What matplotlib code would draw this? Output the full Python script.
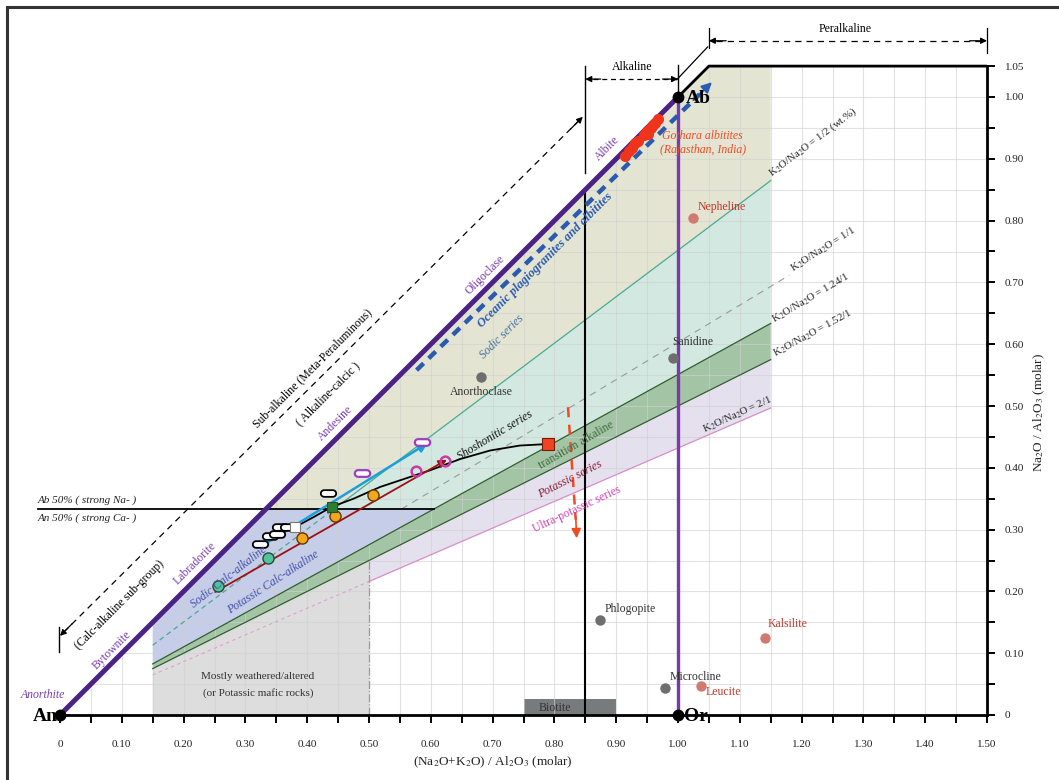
import numpy as np
import matplotlib
matplotlib.use("Agg")
import matplotlib.pyplot as plt
from matplotlib.patches import Polygon, Rectangle
from matplotlib.path import Path
from matplotlib.ticker import FixedLocator, FuncFormatter

plt.rcParams['font.family'] = ['Liberation Serif', 'DejaVu Serif']
plt.rcParams['mathtext.fontset'] = 'stix'

# ---------------------------------------------------------------- data
# K2O/Na2O reference lines: Na2O/Al2O3 = slope * (Na2O+K2O)/Al2O3
ratio_labels = ['1/2 (wt.%)', '1/1', '1.24/1', '1.52/1', '2/1']
ratio_slopes = [0.752, 0.603, 0.551, 0.500, 0.432]

# reference minerals
mineral_names = ['Anorthoclase', 'Sanidine', 'Nepheline', 'Phlogopite',
                 'Microcline', 'Leucite', 'Kalsilite']
mineral_x = [0.681, 0.992, 1.024, 0.874, 0.979, 1.037, 1.141]
mineral_y = [0.547, 0.578, 0.804, 0.154, 0.044, 0.047, 0.125]
mineral_kind = ['grey', 'grey', 'red', 'grey', 'grey', 'red', 'red']

# Gothara albitites (Rajasthan, India)
albitite_x = [0.915, 0.920, 0.925, 0.930, 0.936, 0.945, 0.950, 0.952, 0.957, 0.960, 0.963, 0.967]
albitite_y = [0.904, 0.912, 0.918, 0.925, 0.928, 0.938, 0.945, 0.940, 0.950, 0.955, 0.958, 0.964]

# calc-alkaline / shoshonitic reference suites
pill_black_x = [0.324, 0.340, 0.351, 0.356, 0.369, 0.434]
pill_black_y = [0.277, 0.290, 0.293, 0.304, 0.304, 0.359]
pill_purple_x = [0.489, 0.586]
pill_purple_y = [0.391, 0.442]
green_circ_x = [0.256, 0.337]
green_circ_y = [0.209, 0.254]
orange_circ_x = [0.392, 0.445, 0.506]
orange_circ_y = [0.286, 0.322, 0.356]
magenta_ring_x = [0.576, 0.623]
magenta_ring_y = [0.395, 0.411]
white_sq = (0.380, 0.304)
green_sq = (0.440, 0.337)
red_sq = (0.790, 0.4385)

# shoshonitic trend curve
shosh_x = [0.380, 0.410, 0.440, 0.475, 0.518, 0.560, 0.599, 0.647, 0.696, 0.744, 0.790]
shosh_y = [0.304, 0.320, 0.337, 0.350, 0.369, 0.383, 0.396, 0.414, 0.428, 0.436, 0.4385]

# trend arrows (start, end)
sodic_trend = [(0.324, 0.272), (0.595, 0.440)]
potassic_trend = [(0.251, 0.199), (0.626, 0.413)]
oceanic_trend = [(0.577, 0.558), (1.055, 1.024)]
weathering_trend = [(0.822, 0.498), (0.836, 0.286)]

x_ticks = [round(0.1 * i, 2) for i in range(16)]
y_ticks = [round(0.1 * i, 2) for i in range(11)] + [1.05]

# ---------------------------------------------------------------- figure
fig = plt.figure(figsize=(10.59, 7.80), dpi=100)
ax = fig.add_axes([0, 0, 1, 1])
ax.set_xlim(-60 / 618, 999 / 618)
ax.set_ylim(-65 / 618, 715 / 618)
ax.patch.set_alpha(0)

fig.add_artist(Rectangle((7 / 1059, -0.2), 1.3, 1.2 - 7 / 780, transform=fig.transFigure,
                         fill=False, lw=2.2, ec='#333333'))

s12, s11, s124, s152, s21 = ratio_slopes
third = 1 / 3
xr = 1.15

# fields
c_olive, c_teal, c_blue = '#e4e4d2', '#d2e8e1', '#c6cde8'
c_band, c_lilac, c_grey = '#a4c4a6', '#e5e0ee', '#dcdddc'

ax.add_patch(Polygon([(third, third), (1, 1), (1.05, 1.05), (xr, 1.05), (xr, s12 * xr),
                      (third / s12, third)], closed=True, fc=c_olive, ec='none', zorder=1))
ax.add_patch(Polygon([(third / s12, third), (xr, s12 * xr), (xr, s124 * xr),
                      (third / s124, third)], closed=True, fc=c_teal, ec='none', zorder=1))
ax.add_patch(Polygon([(0.15, 0.15), (third, third), (third / s124, third),
                      (0.15, s124 * 0.15)], closed=True, fc=c_blue, ec='none', zorder=1))
ax.add_patch(Polygon([(0.15, s124 * 0.15), (xr, s124 * xr), (xr, s152 * xr),
                      (0.15, s152 * 0.15)], closed=True, fc=c_band, ec='none', zorder=1))
ax.add_patch(Polygon([(0.5, s152 * 0.5), (xr, s152 * xr), (xr, s21 * xr),
                      (0.5, s21 * 0.5)], closed=True, fc=c_lilac, ec='none', zorder=1))
ax.add_patch(Polygon([(0.15, 0), (0.5, 0), (0.5, s152 * 0.5), (0.15, s152 * 0.15)],
                     closed=True, fc=c_grey, ec='none', zorder=1))
ax.add_patch(Rectangle((0.75, 0), 0.15, 0.026, fc='#787b7b', ec='none', zorder=1.2))

# grid limited to the diagram domain
domain = Polygon([(0, 0), (1, 1), (1.05, 1.05), (1.5, 1.05), (1.5, 0)], closed=True,
                 transform=ax.transData)
gx = np.arange(1, 30) * 0.05
gy = np.arange(1, 21) * 0.05
vl = ax.vlines(gx, 0, 1.05, colors='#d0d0d0', lw=0.8, alpha=0.6, zorder=1.5)
hl = ax.hlines(gy, 0, 1.5, colors='#d0d0d0', lw=0.8, alpha=0.6, zorder=1.5)
vl.set_clip_path(domain)
hl.set_clip_path(domain)

# reference lines
xx = np.array([0.15, xr])
ax.plot([0.15, third / s12], [0.15 * s12, third], ls=(0, (4, 3)), color='#4aaa90', lw=0.9, zorder=2)
ax.plot([third / s12, xr], [third, xr * s12], color='#4aaa90', lw=0.9, zorder=2)
ax.plot([third / s11, 1.18], [third, 1.18 * s11], ls=(0, (6, 5)), color='#9a9a9a', lw=0.8, zorder=2)
ax.plot(xx, xx * s124, color='#2f5e2f', lw=0.9, zorder=2)
ax.plot(xx, xx * s152, color='#2f5e2f', lw=0.9, zorder=2)
ax.plot([0.15, 0.5], [0.15 * s21, 0.5 * s21], ls=(0, (3, 3)), color='#e0a0d2', lw=0.8, zorder=2)
ax.plot([0.5, xr], [0.5 * s21, xr * s21], color='#d88ccc', lw=0.9, zorder=2)
ax.plot([0.5, 0.5], [0, 0.5 * s152], ls='-.', color='#9a9a9a', lw=0.9, zorder=2)
ax.plot([-0.036, third / s124], [third, third], color='k', lw=1.3, zorder=2.5)

# boundaries
ax.plot([0.85, 0.85], [0, 0.85], color='k', lw=1.5, zorder=2.6)
ax.plot([0.85, 0.85], [0.877, 1.05], color='k', lw=1.0, zorder=2.6)
ax.plot([1.0, 1.0], [0, 1.0], color='#7b3aa8', lw=2.4, zorder=2.7)
ax.plot([1.0, 1.0], [1.0, 1.052], color='k', lw=1.0, zorder=2.7)
ax.plot([1.0, 1.05, 1.5], [1.0, 1.05, 1.05], color='k', lw=2.0, zorder=2.7, solid_capstyle='butt')
ax.plot([0, 1], [0, 1], color='#4b2483', lw=3.6, zorder=3, solid_capstyle='round')

# axes
for s in ['left', 'top']:
    ax.spines[s].set_visible(False)
ax.spines['bottom'].set_position(('data', 0))
ax.spines['bottom'].set_bounds(0, 1.5)
ax.spines['right'].set_position(('data', 1.5))
ax.spines['right'].set_bounds(0, 1.05)
for s in ['bottom', 'right']:
    ax.spines[s].set_linewidth(2.0)
    ax.spines[s].set_zorder(4)
ax.xaxis.set_ticks_position('bottom')
ax.yaxis.set_ticks_position('right')
ax.xaxis.set_major_locator(FixedLocator(x_ticks))
ax.xaxis.set_minor_locator(FixedLocator([0.05 + 0.1 * i for i in range(15)]))
ax.yaxis.set_major_locator(FixedLocator(y_ticks))
ax.yaxis.set_minor_locator(FixedLocator([0.05 + 0.1 * i for i in range(10)]))
fmt = FuncFormatter(lambda v, p: '0' if abs(v) < 1e-9 else f'{v:.2f}')
ax.xaxis.set_major_formatter(fmt)
ax.yaxis.set_major_formatter(fmt)
ax.tick_params(axis='both', which='both', direction='out', length=6, width=1.4, colors='k',
               labelsize=8, labelcolor='#222222')
ax.tick_params(axis='x', which='major', pad=12)
ax.tick_params(axis='y', which='major', pad=7)

ax.text(0.70, -0.077, r'(Na$_2$O+K$_2$O) / Al$_2$O$_3$ (molar)', ha='center', va='center',
        fontsize=9.5, color='#222222')
ax.text(1.584, 0.489, r'Na$_2$O / Al$_2$O$_3$ (molar)', ha='center', va='center',
        rotation=90, fontsize=9.5, color='#222222')

# end-members
ax.plot([0, 1, 1], [0, 1, 0], 'o', color='k', ms=7.5, zorder=7)
ax.text(-0.004, -0.003, 'An', ha='right', va='center', fontsize=14, fontweight='bold', zorder=7)
ax.text(1.012, 0.997, 'Ab', ha='left', va='center', fontsize=14, fontweight='bold', zorder=7)
ax.text(1.010, -0.003, 'Or', ha='left', va='center', fontsize=14, fontweight='bold', zorder=7)

# plagioclase names
plag_c = '#7a3db0'
ax.text(-0.028, 0.032, 'Anorthite', ha='center', va='center', fontsize=8.5, style='italic', color=plag_c)
for name, x, y in [('Bytownite', 0.084, 0.105), ('Labradorite', 0.218, 0.246),
                   ('Andesine', 0.445, 0.472), ('Oligoclase', 0.688, 0.712),
                   ('Albite', 0.885, 0.917)]:
    ax.text(x, y, name, ha='center', va='center', rotation=45, rotation_mode='anchor',
            fontsize=8.5, color=plag_c, zorder=6)

# sub-alkaline / alkaline annotations
ax.plot([0.006, 0.840], [0.134, 0.962], ls=(0, (5, 4)), color='k', lw=0.9, zorder=2.5)
ax.annotate('', xy=(0.0, 0.128), xytext=(0.02, 0.148),
            arrowprops=dict(arrowstyle='-|>', color='k', lw=0.9, mutation_scale=9,
                            shrinkA=0, shrinkB=0))
ax.annotate('', xy=(0.846, 0.968), xytext=(0.826, 0.948),
            arrowprops=dict(arrowstyle='-|>', color='k', lw=0.9, mutation_scale=9,
                            shrinkA=0, shrinkB=0))
ax.plot([-0.002, -0.002], [0.102, 0.142], color='k', lw=1.0)
ax.text(0.409, 0.561, 'Sub-alkaline (Meta-Peraluminous)', rotation=45, rotation_mode='anchor',
        ha='center', va='center', fontsize=8.5)
ax.text(0.434, 0.519, '( Alkaline-calcic )', rotation=45, rotation_mode='anchor',
        ha='center', va='center', fontsize=8.5)
ax.text(0.096, 0.178, '(Calc-alkaline sub-group)', rotation=45, rotation_mode='anchor',
        ha='center', va='center', fontsize=8.5)

ax.text(-0.036, 0.340, 'Ab 50% ( strong Na- )', ha='left', va='bottom', fontsize=8, style='italic',
        color='#222222')
ax.text(-0.036, 0.326, 'An 50% ( strong Ca- )', ha='left', va='top', fontsize=8, style='italic',
        color='#222222')

# alkaline / peralkaline brackets
ax.plot([0.862, 0.988], [1.029, 1.029], ls=(0, (4, 3)), color='k', lw=0.9)
for tip, tail in [((0.85, 1.029), (0.875, 1.029)), ((1.0, 1.029), (0.975, 1.029))]:
    ax.annotate('', xy=tip, xytext=tail,
                arrowprops=dict(arrowstyle='-|>', color='k', lw=0.9, mutation_scale=9,
                                shrinkA=0, shrinkB=0))
ax.text(0.925, 1.049, 'Alkaline', ha='center', va='center', fontsize=8.5)
ax.plot([1.062, 1.488], [1.091, 1.091], ls=(0, (5, 4)), color='k', lw=0.9)
for tip, tail in [((1.05, 1.091), (1.078, 1.091)), ((1.5, 1.091), (1.472, 1.091))]:
    ax.annotate('', xy=tip, xytext=tail,
                arrowprops=dict(arrowstyle='-|>', color='k', lw=0.9, mutation_scale=9,
                                shrinkA=0, shrinkB=0))
ax.plot([1.05, 1.05], [1.079, 1.112], color='k', lw=0.9)
ax.plot([1.5, 1.5], [1.071, 1.112], color='k', lw=0.9)
ax.plot([0.998, 1.048], [1.028, 1.081], color='k', lw=0.9)
ax.text(1.27, 1.11, 'Peralkaline', ha='center', va='center', fontsize=8.5)

# field labels
ax.text(0.715, 0.612, 'Sodic series', rotation=45, rotation_mode='anchor', ha='center', va='center',
        fontsize=8.5, style='italic', color='#3d6fa0', zorder=6)
ax.text(0.786, 0.736, 'Oceanic plagiogranites and albitites', rotation=45, rotation_mode='anchor',
        ha='center', va='center', fontsize=9, style='italic', fontweight='bold', color='#2a5bb0', zorder=6)
ax.text(0.273, 0.223, 'Sodic Calc-alkaline', rotation=38, rotation_mode='anchor', ha='center',
        va='center', fontsize=8.5, style='italic', color='#4450a8', zorder=6)
ax.text(0.345, 0.215, 'Potassic Calc-alkaline', rotation=33, rotation_mode='anchor', ha='center',
        va='center', fontsize=8.5, style='italic', color='#4450a8', zorder=6)
ax.text(0.704, 0.453, 'Shoshonitic series', rotation=31, rotation_mode='anchor', ha='center',
        va='center', fontsize=8.5, style='italic', color='#111111', zorder=6)
ax.text(0.836, 0.437, 'transition alkaline', rotation=30, rotation_mode='anchor', ha='center',
        va='center', fontsize=8.5, color='#3d6b3d', zorder=6)
ax.text(0.825, 0.382, 'Potassic series', rotation=27, rotation_mode='anchor', ha='center',
        va='center', fontsize=8.5, style='italic', color='#8b1a3a', zorder=6)
ax.text(0.836, 0.333, 'Ultra-potassic series', rotation=25, rotation_mode='anchor', ha='center',
        va='center', fontsize=8.5, color='#d040b0', zorder=6)
ax.text(0.32, 0.049, 'Mostly weathered/altered\n(or Potassic mafic rocks)', ha='center',
        va='center', fontsize=8, color='#333333', linespacing=1.9, zorder=6)
ax.text(0.80, 0.012, 'Biotite', ha='center', va='center', fontsize=8.5, color='#333333', zorder=6)

# ratio-line labels
ratio_anchor = [(1.155, 0.866, 37), (1.190, 0.712, 32.5), (1.158, 0.630, 30.5),
                (1.160, 0.574, 28.5), (1.045, 0.452, 24.5)]
for lab, (x, y, rot) in zip(ratio_labels, ratio_anchor):
    ax.text(x, y, r'K$_2$O/Na$_2$O = ' + lab, rotation=rot, rotation_mode='anchor',
            ha='left', va='bottom', fontsize=7.8, color='#222222', zorder=6)

# trend arrows
ax.annotate('', xy=sodic_trend[1], xytext=sodic_trend[0],
            arrowprops=dict(arrowstyle='-|>', color='#1a9fdc', lw=1.8, mutation_scale=13,
                            shrinkA=0, shrinkB=0), zorder=5)
ax.annotate('', xy=potassic_trend[1], xytext=potassic_trend[0],
            arrowprops=dict(arrowstyle='-|>', color='#a01010', lw=1.3, mutation_scale=12,
                            shrinkA=0, shrinkB=0), zorder=5)
(ox0, oy0), (ox1, oy1) = oceanic_trend
ax.plot([ox0, ox1 - 0.02], [oy0, oy1 - 0.0195], ls=(0, (2.2, 1.6)), color='#2a5bb0', lw=3.2, zorder=4)
ax.annotate('', xy=(ox1, oy1), xytext=(ox1 - 0.03, oy1 - 0.029),
            arrowprops=dict(arrowstyle='-|>', color='#2a5bb0', lw=1.5, mutation_scale=15,
                            shrinkA=0, shrinkB=0), zorder=4)
(wx0, wy0), (wx1, wy1) = weathering_trend
ax.plot([wx0, wx1 - 0.0015], [wy0, wy1 + 0.03], ls=(0, (4, 3)), color='#f04a23', lw=1.8, zorder=4)
ax.annotate('', xy=(wx1, wy1), xytext=(wx1 - 0.0015, wy1 + 0.035),
            arrowprops=dict(arrowstyle='-|>', color='#f04a23', lw=1.2, mutation_scale=14,
                            shrinkA=0, shrinkB=0), zorder=4)

ax.plot(shosh_x, shosh_y, color='k', lw=1.3, zorder=4.5)

# pill-shaped marker
def stadium(w=2.3, h=1.0, n=14):
    r = h / 2
    cx = w / 2 - r
    t1 = np.linspace(-np.pi / 2, np.pi / 2, n)
    t2 = np.linspace(np.pi / 2, 3 * np.pi / 2, n)
    right = np.column_stack([cx + r * np.cos(t1), r * np.sin(t1)])
    left = np.column_stack([-cx + r * np.cos(t2), r * np.sin(t2)])
    verts = np.vstack([right, left, right[:1]])
    codes = [Path.MOVETO] + [Path.LINETO] * (len(verts) - 2) + [Path.CLOSEPOLY]
    return Path(verts, codes)

pill = stadium()
ax.plot(pill_black_x, pill_black_y, ls='none', marker=pill, ms=11, mfc='white', mec='k', mew=1.3, zorder=5)
ax.plot(pill_purple_x, pill_purple_y, ls='none', marker=pill, ms=11, mfc='white', mec='#9a40c0',
        mew=1.6, zorder=5)
ax.plot(green_circ_x, green_circ_y, 'o', ms=8, mfc='#52c49a', mec='#2a4a3a', mew=1.0, zorder=5)
ax.plot(orange_circ_x, orange_circ_y, 'o', ms=8, mfc='#f7a51c', mec='#5a3a00', mew=1.0, zorder=5)
ax.plot(magenta_ring_x, magenta_ring_y, 'o', ms=7, mfc='none', mec='#c83ca8', mew=1.8, zorder=5)
ax.plot(*white_sq, 's', ms=7, mfc='white', mec='#777777', mew=0.8, zorder=5.5)
ax.plot(*green_sq, 's', ms=7.5, mfc='#2e7d32', mec='#1f5522', mew=0.8, zorder=5.5)
ax.plot(*red_sq, 's', ms=8, mfc='#ee4422', mec='#7a1a0a', mew=0.8, zorder=5.5)

# albitites
ax.plot(albitite_x, albitite_y, 'o', ms=8, color='#f0341c', mec='none', zorder=5)
ax.text(1.04, 0.926, 'Gothara albitites\n(Rajasthan, India)', ha='center', va='center',
        fontsize=8.5, style='italic', color='#f04a23', linespacing=1.2, zorder=6)

# minerals
mc = {'grey': '#6e6e6e', 'red': '#cf7b72'}
tc = {'grey': '#333333', 'red': '#c0392b'}
label_pos = {'Anorthoclase': (0.0, -0.024, 'center'), 'Sanidine': (-0.001, 0.025, 'left'),
             'Nepheline': (0.008, 0.018, 'left'), 'Phlogopite': (0.008, 0.018, 'left'),
             'Microcline': (0.008, 0.017, 'left'), 'Leucite': (0.007, -0.009, 'left'),
             'Kalsilite': (0.004, 0.023, 'left')}
for n, x, y, k in zip(mineral_names, mineral_x, mineral_y, mineral_kind):
    ax.plot(x, y, 'o', ms=7.5, color=mc[k], mec='none', zorder=5)
    dx, dy, ha = label_pos[n]
    ax.text(x + dx, y + dy, n, ha=ha, va='center', fontsize=8.5, color=tc[k], zorder=6)

fig.savefig('out.png', dpi=100)
